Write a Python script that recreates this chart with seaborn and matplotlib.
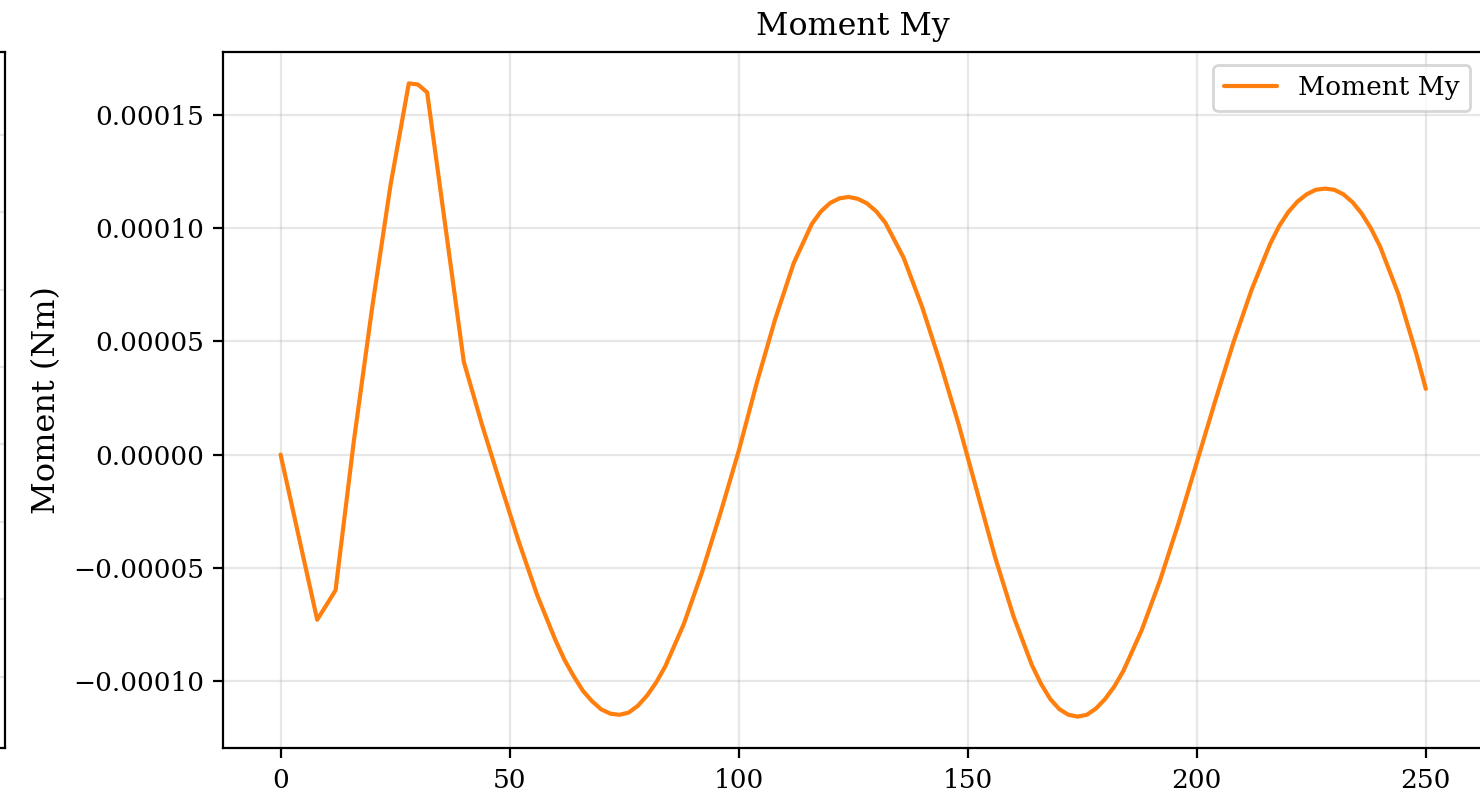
import numpy as np
import pandas as pd
import matplotlib
matplotlib.use("Agg")
import matplotlib.pyplot as plt
import seaborn as sns

# Sample positions and bending moment My (Nm)
positions = [0, 8, 12, 16, 20, 24, 28, 30, 32, 40, 44, 48, 52, 56, 60, 62, 64, 66, 68,
             70, 72, 74, 76, 78, 80, 82, 84, 88, 92, 96, 100, 104, 108, 112, 116, 118,
             120, 122, 124, 126, 128, 130, 132, 136, 140, 144, 148, 152, 156, 160, 164,
             166, 168, 170, 172, 174, 176, 178, 180, 182, 184, 188, 192, 196, 200, 204,
             208, 212, 216, 218, 220, 222, 224, 226, 228, 230, 232, 234, 236, 238, 240,
             244, 248, 250]
moment_my = [0.0, -7.3e-05, -6.0e-05, 0.6e-05, 6.5e-05, 11.9e-05, 16.4e-05, 16.35e-05,
             16.0e-05, 4.1e-05, 1.3e-05, -1.3e-05, -3.85e-05, -6.2e-05, -8.2e-05,
             -9.08e-05, -9.8e-05, -10.44e-05, -10.9e-05, -11.26e-05, -11.45e-05,
             -11.5e-05, -11.4e-05, -11.1e-05, -10.65e-05, -10.07e-05, -9.35e-05,
             -7.5e-05, -5.2e-05, -2.6e-05, 0.15e-05, 3.2e-05, 6.0e-05, 8.45e-05,
             10.2e-05, 10.75e-05, 11.12e-05, 11.32e-05, 11.38e-05, 11.3e-05, 11.1e-05,
             10.75e-05, 10.25e-05, 8.7e-05, 6.55e-05, 4.05e-05, 1.35e-05, -1.6e-05,
             -4.55e-05, -7.15e-05, -9.3e-05, -10.13e-05, -10.8e-05, -11.25e-05,
             -11.5e-05, -11.58e-05, -11.5e-05, -11.22e-05, -10.8e-05, -10.25e-05,
             -9.55e-05, -7.75e-05, -5.55e-05, -3.05e-05, -0.35e-05, 2.35e-05, 4.95e-05,
             7.3e-05, 9.3e-05, 10.1e-05, 10.72e-05, 11.18e-05, 11.5e-05, 11.7e-05,
             11.75e-05, 11.7e-05, 11.5e-05, 11.15e-05, 10.65e-05, 10.0e-05, 9.2e-05,
             7.1e-05, 4.4e-05, 2.9e-05]

series_label = "Moment My"
title_text = "Moment My"
y_label = "Moment (Nm)"

sns.set_style("ticks")
plt.rcParams["font.family"] = ["DejaVu Serif"]
plt.rcParams["text.color"] = "black"
plt.rcParams["axes.labelcolor"] = "black"
plt.rcParams["xtick.color"] = "black"
plt.rcParams["ytick.color"] = "black"
plt.rcParams["axes.edgecolor"] = "black"
plt.rcParams["axes.linewidth"] = 0.8

fig = plt.figure(figsize=(7.4, 3.99), dpi=200)

# neighbouring panel (only its right edge is in view)
ax0 = fig.add_axes([4.5 / 1480 - 0.8512, 0.0623, 0.8512, 0.8729])
ax0.set_ylim(-3.926, 5.074)
ax0.set_yticks(np.arange(-3, 5, 1))
ax0.set_yticklabels([])
ax0.set_xticks([])
ax0.yaxis.grid(True, color="#b0b0b0", alpha=0.3, linewidth=0.8)

# main panel
ax = fig.add_axes([223.3 / 1480, 0.0623, 0.8512, 0.8729])
df = pd.DataFrame({"x": positions, "My": moment_my})
sns.lineplot(data=df, x="x", y="My", ax=ax, color="#ff7f0e", linewidth=1.5,
             label=series_label, sort=False)
ax.grid(True, color="#b0b0b0", alpha=0.3, linewidth=0.8)
ax.set_title(title_text, fontsize=11.4)
ax.set_xlabel("")
ax.set_ylabel(y_label, fontsize=11.5)
ax.tick_params(axis="both", labelsize=9.5, length=3.5, width=0.8, direction="out")
ax.legend(loc="upper right", fontsize=9.5)

fig.savefig("out.png", dpi=200)
